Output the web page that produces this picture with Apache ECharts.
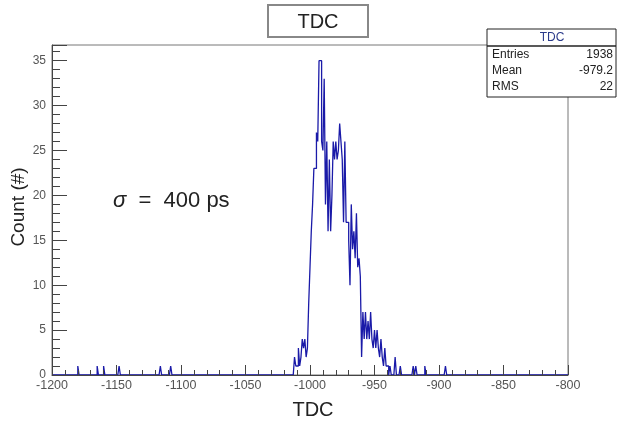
<!DOCTYPE html>
<html>
<head>
<meta charset="utf-8">
<script src="https://cdn.jsdelivr.net/npm/echarts@6/dist/echarts.min.js"></script>
<style>
html,body{margin:0;padding:0;background:#fff;}
#chart{width:617px;height:421px;}
</style>
</head>
<body>
<div id="chart"></div>
<script>
// ---- data ----
const binStart = -1200;
const binEnd = -800;
const binWidth = 1;
// contiguous core region, bins starting at coreStart
const coreStart = -1012;
const coreCounts = [
  2, 1, 1, 3, 1, 2, 4, 3, 4, 2,      // -1012 .. -1003
  3, 8, 12, 16, 19, 23, 23, 27, 26, 35, // -1002 .. -993
  35, 26, 25, 33, 19, 26, 16, 24, 16, 20, // -992 .. -983
  26, 24, 26, 24, 25, 28, 26, 24, 17, 26, // -982 .. -973
  17, 17, 15, 10, 19, 14, 16, 13, 18, 12, // -972 .. -963
  13, 11, 2, 7, 4, 7, 4, 6, 4, 7,     // -962 .. -953
  4, 3, 5, 3, 5, 3, 2, 4, 2, 1,       // -952 .. -943
  3, 1, 1, 0, 1, 0, 0, 0, 2, 0,       // -942 .. -933
  0, 0, 1                              // -932 .. -930
];
// isolated tail entries
const tailBins = [-1180, -1165, -1160, -1148, -1116, -1108, -920, -918, -911, -895];
const tailCounts = [1, 1, 1, 1, 1, 1, 1, 1, 1, 1];
const xTicks = [-1200, -1150, -1100, -1050, -1000, -950, -900, -850, -800];
const yTicks = [0, 5, 10, 15, 20, 25, 30, 35];
const histTitle = 'TDC';
const statNames = ['Entries', 'Mean', 'RMS'];
const statValues = ['1938', '-979.2', '22'];
const xTitle = 'TDC';
const yTitle = 'Count (#)';
const yMax = 36.75;

// ---- build histogram step data ----
const countMap = {};
coreCounts.forEach((c, i) => { countMap[coreStart + i * binWidth] = c; });
tailBins.forEach((b, i) => { countMap[b] = (countMap[b] || 0) + tailCounts[i]; });
const stepData = [];
for (let x = binStart; x < binEnd; x += binWidth) {
  stepData.push([x, countMap[x] || 0]);
}
stepData.push([binEnd, 0]);

const FONT = '"Liberation Sans", Arial, Helvetica, sans-serif';
const chart = echarts.init(document.getElementById('chart'), null, {renderer: 'canvas'});

const gl = 52, gt = 45, gw = 516, gh = 330;

const option = {
  backgroundColor: '#ffffff',
  animation: false,
  grid: {left: gl, top: gt, width: gw, height: gh, show: true, borderColor: '#777', borderWidth: 1, backgroundColor: 'transparent'},
  xAxis: {
    type: 'value', min: binStart, max: binEnd, interval: 50, z: 5,
    axisLine: {show: true, onZero: false, lineStyle: {color: '#444', width: 1}},
    axisTick: {show: true, inside: true, length: 10, lineStyle: {color: '#444'}},
    minorTick: {show: true, splitNumber: 5, length: 5, lineStyle: {color: '#444'}},
    splitLine: {show: false},
    axisLabel: {
      margin: 4, fontSize: 12.5, color: '#555', fontFamily: FONT,
      formatter: v => (xTicks.indexOf(v) >= 0 ? String(v) : '')
    }
  },
  yAxis: {
    type: 'value', min: 0, max: yMax, interval: 5, z: 5,
    axisLine: {show: true, onZero: false, lineStyle: {color: '#444', width: 1}},
    axisTick: {show: true, inside: true, length: 15, lineStyle: {color: '#444'}},
    minorTick: {show: true, splitNumber: 5, length: 8, lineStyle: {color: '#444'}},
    splitLine: {show: false},
    axisLabel: {
      margin: 6, fontSize: 12, color: '#555', fontFamily: FONT,
      formatter: v => (yTicks.indexOf(v) >= 0 ? String(v) : '')
    }
  },
  series: [{
    type: 'line', step: 'end', symbol: 'none', data: stepData,
    lineStyle: {color: '#1a1aa8', width: 1.3},
    clip: true, z: 2
  }],
  graphic: [
    // histogram title box
    {type: 'rect', z: 10, shape: {x: 268, y: 5, width: 100, height: 32},
     style: {fill: '#fff', stroke: '#888', lineWidth: 2}},
    {type: 'text', z: 11, x: 318, y: 22,
     style: {text: histTitle, font: '20px ' + FONT, fill: '#222', align: 'center', verticalAlign: 'middle'}},
    // stats box
    {type: 'rect', z: 10, shape: {x: 487, y: 29, width: 129, height: 68},
     style: {fill: '#fff', stroke: '#222', lineWidth: 1}},
    {type: 'line', z: 11, shape: {x1: 487, y1: 46, x2: 616, y2: 46},
     style: {stroke: '#222', lineWidth: 1.5}},
    {type: 'text', z: 11, x: 552, y: 38,
     style: {text: histTitle, font: '12px ' + FONT, fill: '#2a3a8a', align: 'center', verticalAlign: 'middle'}},
    ...statNames.map((n, i) => ({type: 'text', z: 11, x: 492, y: 55 + i * 16,
      style: {text: n, font: '12px ' + FONT, fill: '#222', align: 'left', verticalAlign: 'middle'}})),
    ...statValues.map((v, i) => ({type: 'text', z: 11, x: 613, y: 55 + i * 16,
      style: {text: v, font: '12px ' + FONT, fill: '#222', align: 'right', verticalAlign: 'middle'}})),
    // axis titles
    {type: 'text', z: 11, x: 313, y: 410,
     style: {text: xTitle, font: '20px ' + FONT, fill: '#222', align: 'center', verticalAlign: 'middle'}},
    {type: 'text', z: 11, x: 19, y: 207, rotation: Math.PI / 2,
     style: {text: yTitle, font: '19px ' + FONT, fill: '#222', align: 'center', verticalAlign: 'middle'}},
    // sigma annotation
    {type: 'text', z: 11, x: 113, y: 201,
     style: {text: '{s|σ}  =  400 ps', font: '22px ' + FONT, fill: '#222', align: 'left', verticalAlign: 'middle',
       rich: {s: {fontStyle: 'italic', fontSize: 22, fontFamily: FONT, fill: '#222'}}}}
  ]
};
chart.setOption(option);
</script>
</body>
</html>
